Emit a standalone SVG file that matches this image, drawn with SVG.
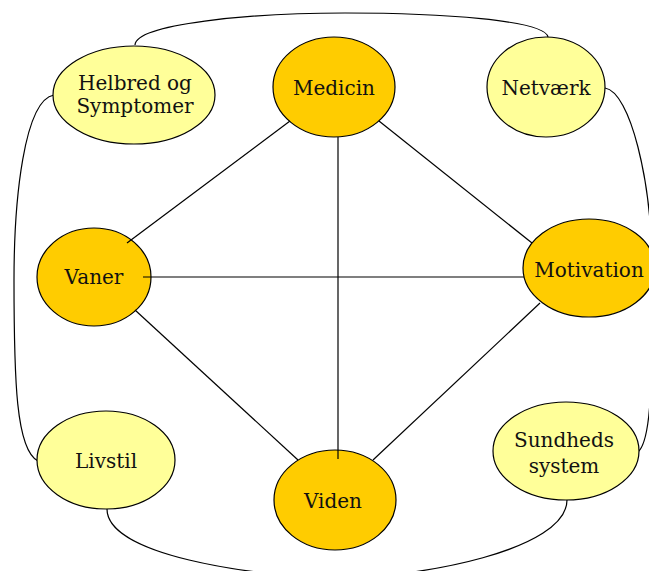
<svg xmlns="http://www.w3.org/2000/svg" width="649" height="571" viewBox="0 0 649 571">
  <style>
    .core { fill: #FFCC00; stroke: #000; stroke-width: 1.2; }
    .outer { fill: #FFFF99; stroke: #000; stroke-width: 1.2; }
    .link { fill: none; stroke: #000; stroke-width: 1.2; }
    text { font-family: "DejaVu Serif", "Liberation Serif", serif; font-size: 20px; fill: #111; text-anchor: middle; }
  </style>
  <rect width="649" height="571" fill="#fff"/>

  <!-- outer ring of curved connectors -->
  <g id="connectors-outer">
    <path class="link" d="M135,45 C136,24 250,13 345,13 C440,13 545,20 548,37"/>
    <path class="link" d="M54,95 C24,100 14,200 14,280 C14,380 16,450 38,461"/>
    <path class="link" d="M605,88 C630,92 652,180 652,270 C652,380 652,440 638,452"/>
    <path class="link" d="M107,509 C107,555 250,576 335,578 C420,578 567,550 567,500"/>
  </g>

  <!-- nodes -->
  <g id="node-helbred">
    <ellipse class="outer" cx="134" cy="95" rx="81" ry="49"/>
    <text x="135" y="90">Helbred og</text>
    <text x="135" y="113">Symptomer</text>
  </g>
  <g id="node-medicin">
    <ellipse class="core" cx="334" cy="87" rx="61" ry="50"/>
    <text x="334" y="95">Medicin</text>
  </g>
  <g id="node-netvaerk">
    <ellipse class="outer" cx="546" cy="87" rx="59" ry="50"/>
    <text x="546" y="95">Netværk</text>
  </g>
  <g id="node-vaner">
    <ellipse class="core" cx="94" cy="277" rx="57" ry="49"/>
    <text x="94" y="284">Vaner</text>
  </g>
  <g id="node-motivation">
    <ellipse class="core" cx="589" cy="268" rx="66" ry="49"/>
    <text x="589" y="277">Motivation</text>
  </g>
  <g id="node-livstil">
    <ellipse class="outer" cx="106" cy="460" rx="69" ry="49"/>
    <text x="106" y="468">Livstil</text>
  </g>
  <g id="node-sundheds">
    <ellipse class="outer" cx="566" cy="451" rx="73" ry="49"/>
    <text x="564" y="447">Sundheds</text>
    <text x="564" y="473">system</text>
  </g>
  <g id="node-viden">
    <ellipse class="core" cx="335" cy="500" rx="61" ry="50"/>
    <text x="333" y="508">Viden</text>
  </g>

  <!-- inner connectors, drawn over the nodes they start inside -->
  <g id="connectors-inner">
    <line class="link" x1="127" y1="243" x2="290" y2="121"/>
    <line class="link" x1="379" y1="121" x2="532" y2="243"/>
    <line class="link" x1="338" y1="137" x2="338" y2="459"/>
    <line class="link" x1="143" y1="277" x2="524" y2="277"/>
    <line class="link" x1="135" y1="310" x2="298" y2="460"/>
    <line class="link" x1="540" y1="303" x2="373" y2="460"/>
  </g>
</svg>
